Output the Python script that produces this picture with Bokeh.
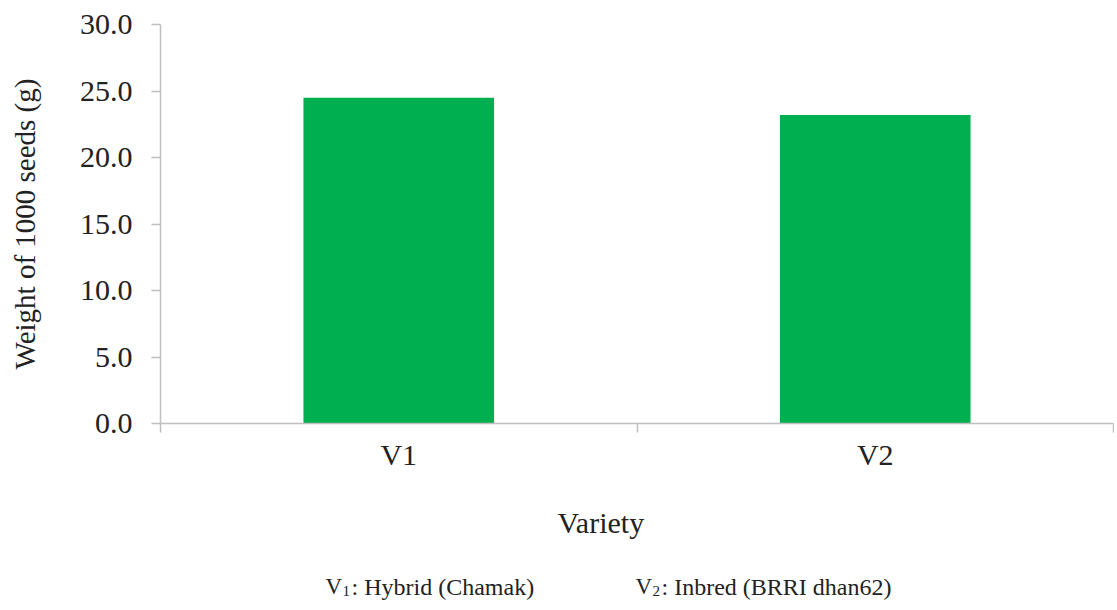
from bokeh.plotting import figure
from bokeh.layouts import column
from bokeh.models import Range1d, FixedTicker, NumeralTickFormatter, Label
from bokeh.embed import file_html
from bokeh.resources import INLINE

# ---- data ----
varieties = ["V1", "V2"]
weights = [24.5, 23.2]
y_ticks = [0, 5, 10, 15, 20, 25, 30]
y_label = "Weight of 1000 seeds (g)"
x_label = "Variety"
note_keys = ["V", "V"]
note_subs = ["1", "2"]
note_texts = [": Hybrid (Chamak)", ": Inbred (BRRI dhan62)"]

FONT = "Liberation Serif"
TXT = "#222222"
AX = "#bfbfbf"
GREEN = "#00B050"

W = 1114
LEFT = 160
x_pos = [i + 0.5 for i in range(len(varieties))]

p = figure(width=W, height=480, output_backend="svg", toolbar_location=None,
           x_range=Range1d(0, len(varieties)), y_range=Range1d(0, 30),
           min_border_left=LEFT, min_border_top=24, min_border_right=1,
           min_border_bottom=57)
p.outline_line_color = None
p.xgrid.grid_line_color = None
p.ygrid.grid_line_color = None

p.vbar(x=x_pos, top=weights, width=0.4, bottom=0, fill_color=GREEN, line_color=None)

# y axis
ya = p.yaxis[0]
ya.ticker = FixedTicker(ticks=y_ticks)
ya.formatter = NumeralTickFormatter(format="0.0")
ya.axis_line_color = AX
ya.axis_line_width = 1.5
ya.major_tick_line_color = AX
ya.major_tick_line_width = 1.5
ya.major_tick_out = 9
ya.major_tick_in = 0
ya.minor_tick_line_color = None
ya.major_label_text_font = FONT
ya.major_label_text_font_size = "30px"
ya.major_label_text_color = TXT
ya.major_label_standoff = 19
ya.axis_label = y_label
ya.axis_label_text_font = FONT
ya.axis_label_text_font_size = "29px"
ya.axis_label_text_font_style = "normal"
ya.axis_label_text_color = TXT
ya.axis_label_standoff = 36

# x axis
xa = p.xaxis[0]
xa.ticker = FixedTicker(ticks=x_pos, minor_ticks=list(range(len(varieties) + 1)))
xa.major_label_overrides = {x: v for x, v in zip(x_pos, varieties)}
xa.axis_line_color = AX
xa.axis_line_width = 1.5
xa.major_tick_line_color = None
xa.major_tick_out = 0
xa.major_tick_in = 0
xa.minor_tick_line_color = AX
xa.minor_tick_line_width = 1.5
xa.minor_tick_out = 9
xa.minor_tick_in = 0
xa.major_label_text_font = FONT
xa.major_label_text_font_size = "30px"
xa.major_label_text_color = TXT
xa.major_label_standoff = 5

# ---- text strip below the chart (frame aligned with the chart's frame) ----
H2 = 130
t = figure(width=W, height=H2, output_backend="svg", toolbar_location=None,
           x_range=Range1d(0, 1), y_range=Range1d(0, 1),
           min_border_left=0, min_border_right=0,
           min_border_top=0, min_border_bottom=0)
t.axis.visible = False
t.grid.visible = False
t.outline_line_color = None

def sx(px):
    return px - LEFT

t.add_layout(Label(x=sx(557), y=H2 - 42, x_units="screen", y_units="screen", text=x_label,
                   text_font=FONT, text_font_size="30px", text_color=TXT,
                   text_baseline="alphabetic", text_align="left"))

key_x = [325, 635]
for i in range(len(note_keys)):
    kx = sx(key_x[i])
    t.add_layout(Label(x=kx, y=H2 - 106, x_units="screen", y_units="screen", text=note_keys[i],
                       text_font=FONT, text_font_size="23px", text_color=TXT,
                       text_baseline="alphabetic", text_align="left"))
    t.add_layout(Label(x=kx + 17, y=H2 - 110, x_units="screen", y_units="screen", text=note_subs[i],
                       text_font=FONT, text_font_size="15px", text_color=TXT,
                       text_baseline="alphabetic", text_align="left"))
    t.add_layout(Label(x=kx + 26, y=H2 - 106, x_units="screen", y_units="screen", text=note_texts[i],
                       text_font=FONT, text_font_size="24px", text_color=TXT,
                       text_baseline="alphabetic", text_align="left"))

layout = column(p, t, spacing=0)
open("out.html", "w").write(file_html(layout, INLINE))
